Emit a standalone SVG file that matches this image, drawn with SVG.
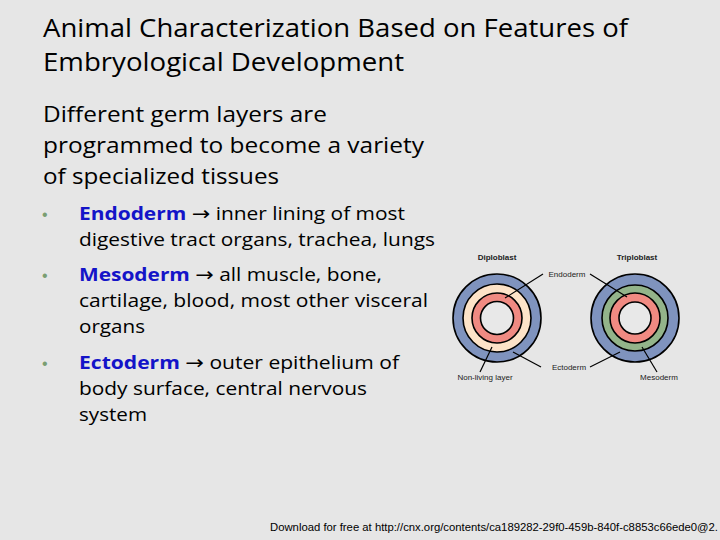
<svg xmlns="http://www.w3.org/2000/svg" width="720" height="540" viewBox="0 0 720 540">
<style>
.t{font-family:"Open Sans","Liberation Sans",sans-serif;fill:#000}
.ti{font-size:25px}
.b{font-size:21px}
.s{font-size:18px}
.k{fill:#1414c8;font-weight:bold}
.ar{font-family:"DejaVu Sans",sans-serif;font-size:19px}
.bu{fill:#7a9e72;font-size:16px;font-family:"Liberation Sans",sans-serif}
.d{font-family:"Liberation Sans",sans-serif;font-size:8px;fill:#222}
.ring{stroke:#000;stroke-width:1.6}
.ln{stroke:#000;stroke-width:1.2;fill:none}
</style>
<rect width="720" height="540" fill="#e6e6e6"/>
<g id="title">
<text class="t ti" x="43" y="37" textLength="585" lengthAdjust="spacingAndGlyphs">Animal Characterization Based on Features of</text>
<text class="t ti" x="43" y="71" textLength="361" lengthAdjust="spacingAndGlyphs">Embryological Development</text>
</g>
<g id="intro">
<text class="t b" x="43" y="122" textLength="284" lengthAdjust="spacingAndGlyphs">Different germ layers are</text>
<text class="t b" x="43" y="153" textLength="381" lengthAdjust="spacingAndGlyphs">programmed to become a variety</text>
<text class="t b" x="43" y="184" textLength="236" lengthAdjust="spacingAndGlyphs">of specialized tissues</text>
</g>
<g id="bullets">
<text class="bu" x="42" y="220">•</text>
<text class="t s" x="79" y="220" textLength="326" lengthAdjust="spacingAndGlyphs"><tspan class="k">Endoderm</tspan> <tspan class="ar">→</tspan> inner lining of most</text>
<text class="t s" x="79" y="246" textLength="356" lengthAdjust="spacingAndGlyphs">digestive tract organs, trachea, lungs</text>
<text class="bu" x="42" y="281">•</text>
<text class="t s" x="79" y="281" textLength="303" lengthAdjust="spacingAndGlyphs"><tspan class="k">Mesoderm</tspan> <tspan class="ar">→</tspan> all muscle, bone,</text>
<text class="t s" x="79" y="307" textLength="349" lengthAdjust="spacingAndGlyphs">cartilage, blood, most other visceral</text>
<text class="t s" x="79" y="333" textLength="66" lengthAdjust="spacingAndGlyphs">organs</text>
<text class="bu" x="42" y="369">•</text>
<text class="t s" x="79" y="369" textLength="320" lengthAdjust="spacingAndGlyphs"><tspan class="k">Ectoderm</tspan> <tspan class="ar">→</tspan> outer epithelium of</text>
<text class="t s" x="79" y="395" textLength="288" lengthAdjust="spacingAndGlyphs">body surface, central nervous</text>
<text class="t s" x="79" y="421" textLength="68" lengthAdjust="spacingAndGlyphs">system</text>
</g>
<g id="diploblast">
<circle class="ring" cx="497" cy="318" r="44" fill="#7f93be"/>
<circle class="ring" cx="497" cy="318" r="34" fill="#fde3c8"/>
<circle class="ring" cx="497" cy="318" r="25" fill="#f08a82"/>
<circle class="ring" cx="497" cy="318" r="16.5" fill="#e8e8e8"/>
<text class="d" x="497" y="260" text-anchor="middle" font-weight="bold">Diploblast</text>
</g>
<g id="triploblast">
<circle class="ring" cx="635" cy="318" r="44" fill="#7f93be"/>
<circle class="ring" cx="635" cy="318" r="33" fill="#93b48a"/>
<circle class="ring" cx="635" cy="318" r="25" fill="#f08a82"/>
<circle class="ring" cx="635" cy="318" r="16" fill="#e8e8e8"/>
<text class="d" x="637" y="260" text-anchor="middle" font-weight="bold">Triploblast</text>
</g>
<g id="labels">
<text class="d" x="567" y="277" text-anchor="middle">Endoderm</text>
<text class="d" x="569" y="370" text-anchor="middle">Ectoderm</text>
<text class="d" x="485" y="380" text-anchor="middle">Non-living layer</text>
<text class="d" x="659" y="380" text-anchor="middle">Mesoderm</text>
</g>
<g id="connectors">
<line class="ln" x1="543" y1="274" x2="505" y2="298"/>
<line class="ln" x1="590" y1="274" x2="627" y2="297"/>
<line class="ln" x1="541" y1="367" x2="513" y2="352"/>
<line class="ln" x1="590" y1="367" x2="620" y2="352"/>
<line class="ln" x1="480" y1="372" x2="492" y2="347"/>
<line class="ln" x1="657" y1="372" x2="642" y2="347"/>
</g>
<text id="footer" x="270" y="531" font-family="Liberation Sans,sans-serif" font-size="10.5" textLength="448" lengthAdjust="spacingAndGlyphs">Download for free at http://cnx.org/contents/ca189282-29f0-459b-840f-c8853c66ede0@2.</text>
</svg>
